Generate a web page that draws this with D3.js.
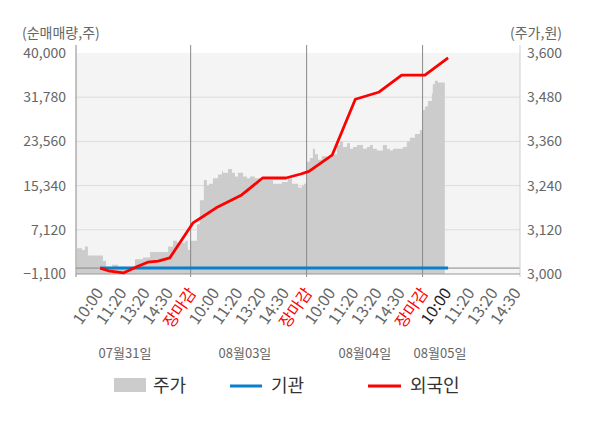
<!DOCTYPE html>
<html>
<head>
<meta charset="utf-8">
<script src="https://cdn.jsdelivr.net/npm/d3@7"></script>
<style>
  body { margin: 0; background: #fff; }
  svg { font-family: "Noto Sans CJK KR", "Noto Sans", sans-serif; }
</style>
</head>
<body>
<svg id="chart" width="600" height="428"></svg>
<script>
// x is measured in tick slots: 1 = 10:00 of day 1, 5 = 장마감, 6 = 10:00 of day 2 ...
const tickNames = ['10:00', '11:20', '13:20', '14:30', '장마감']
const tickSlots = d3.range(1, 20)
const dayNames = ['07월31일', '08월03일', '08월04일', '08월05일']
const daySlots = [2.07, 7.24, 12.41, 15.65]
const dayBreaks = [4.9, 9.9, 14.9]

const volTicks = [40000, 31780, 23560, 15340, 7120, -1100]
const priceTicks = [3600, 3480, 3360, 3240, 3120, 3000]

// 주가 (right axis)
const priceT = [0, 0.22, 0.34, 0.47, 0.78, 1.12, 1.25, 1.51, 1.77, 2.5, 2.84, 3.15, 3.93, 4.14, 4.31, 4.66, 4.78, 4.87,
  5.17, 5.3, 5.47, 5.6, 5.69, 5.86, 6.08, 6.25, 6.29, 6.51, 6.68, 6.81, 6.94, 7.16, 7.33, 7.46, 7.67, 7.89, 8.45, 8.84,
  9.09, 9.27, 9.53, 9.7, 9.78, 9.91, 10.04, 10.17, 10.26, 10.39, 10.56, 10.78, 10.99, 11.21, 11.34, 11.47, 11.64, 11.77,
  11.9, 12.07, 12.33, 12.5, 12.63, 12.76, 12.93, 13.19, 13.36, 13.49, 13.62, 14.05, 14.22, 14.35, 14.57, 14.78, 14.91,
  15.0, 15.13, 15.3, 15.34, 15.43, 15.56, 15.65, 15.86]
const priceV = [3070, 3065, 3075, 3050, 3050, 3035, 3015, 3025, 3020, 3040, 3045, 3060, 3075, 3090, 3085, 3090, 3065, 3090,
  3135, 3200, 3255, 3240, 3245, 3260, 3270, 3280, 3275, 3285, 3275, 3265, 3275, 3265, 3260, 3265, 3260, 3255, 3245, 3250,
  3260, 3245, 3235, 3240, 3245, 3305, 3315, 3340, 3325, 3310, 3320, 3315, 3325, 3350, 3360, 3345, 3355, 3340,
  3345, 3350, 3340, 3345, 3350, 3340, 3335, 3350, 3340, 3335, 3340, 3345, 3360, 3370, 3380, 3390, 3445,
  3455, 3470, 3490, 3515, 3525, 3520, 3520, 3520]

// 외국인 / 기관 net volume (left axis)
const foreignT = [1, 1.35, 2, 2.3, 2.6, 3.05, 3.5, 4, 5, 5.4, 6, 7.1, 8, 9, 9.65, 10, 11, 12, 13, 14, 15, 16]
const foreignV = [0, -500, -900, -300, 300, 1100, 1300, 1900, 8400, 9500, 11200, 13600, 16750, 16750, 17500, 18000,
  21000, 31400, 32700, 35900, 35900, 39100]
const instT = [1, 16]
const instV = [0, 0]

const plotL = 76, plotR = 520, plotT = 53, plotB = 274
const svg = d3.select('#chart')

const x = d3.scaleLinear().domain([0, 19.1]).range([77, plotR])
const yVol = d3.scaleLinear().domain([-1100, 40000]).range([plotB, plotT])
const yPrice = d3.scaleLinear().domain([3000, 3600]).range([plotB, plotT])

svg.append('rect')
  .attr('x', plotL).attr('y', plotT)
  .attr('width', plotR - plotL).attr('height', plotB - plotT)
  .attr('fill', '#f4f4f4')

// grid
svg.append('g').selectAll('line').data(volTicks.slice(1, -1)).enter()
  .append('line')
  .attr('x1', plotL).attr('x2', plotR)
  .attr('y1', d => yVol(d)).attr('y2', d => yVol(d))
  .attr('stroke', '#dcdcdc')

// price area
const price = priceT.map((t, i) => [t, priceV[i]])
svg.append('path')
  .datum(price)
  .attr('fill', '#cccccc')
  .attr('d', d3.area().curve(d3.curveStepAfter)
    .x(d => x(d[0])).y0(plotB).y1(d => yPrice(d[1])))

// zero line
svg.append('line')
  .attr('x1', plotL).attr('x2', plotR)
  .attr('y1', yVol(0)).attr('y2', yVol(0))
  .attr('stroke', '#888')

// day separators
svg.append('g').selectAll('line').data(dayBreaks).enter()
  .append('line')
  .attr('x1', d => x(d)).attr('x2', d => x(d))
  .attr('y1', 45).attr('y2', plotB + 3)
  .attr('stroke', '#888')

svg.append('line').attr('x1', plotL).attr('x2', plotL).attr('y1', 45).attr('y2', plotB + 3).attr('stroke', '#888')
svg.append('line').attr('x1', plotR).attr('x2', plotR).attr('y1', 45).attr('y2', plotB + 3).attr('stroke', '#d0d0d0')
svg.append('line').attr('x1', plotL).attr('x2', plotR).attr('y1', plotB).attr('y2', plotB).attr('stroke', '#999')

const line = d3.line().x(d => x(d[0])).y(d => yVol(d[1]))

svg.append('path')
  .datum(instT.map((t, i) => [t, instV[i]]))
  .attr('fill', 'none').attr('stroke', '#0a7fcb').attr('stroke-width', 3)
  .attr('d', line)

svg.append('path')
  .datum(foreignT.map((t, i) => [t, foreignV[i]]))
  .attr('fill', 'none').attr('stroke', '#ff0000').attr('stroke-width', 2.8)
  .attr('stroke-linejoin', 'round')
  .attr('d', line)

// axes
const fmt = d3.format(',')
const leftAxis = svg.append('g')
  .attr('transform', `translate(${plotL},0)`)
  .call(d3.axisLeft(yVol).tickValues(volTicks).tickFormat(fmt).tickSize(0).tickPadding(10))
const rightAxis = svg.append('g')
  .attr('transform', `translate(${plotR},0)`)
  .call(d3.axisRight(yPrice).tickValues(priceTicks).tickFormat(fmt).tickSize(0).tickPadding(7))

;[leftAxis, rightAxis].forEach(a => {
  a.select('.domain').remove()
  a.selectAll('text').attr('font-size', 14).attr('fill', '#666')
    .attr('font-family', '"Noto Sans CJK KR", "Noto Sans", sans-serif')
})

svg.append('text').attr('x', 22).attr('y', 38).attr('font-size', 14).attr('fill', '#666').text('(순매매량,주)')
svg.append('text').attr('x', 562).attr('y', 38).attr('font-size', 14).attr('fill', '#666')
  .attr('text-anchor', 'end').text('(주가,원)')

// rotated time labels
svg.append('g').selectAll('text').data(tickSlots).enter()
  .append('text')
  .attr('transform', d => `translate(${x(d) + 4},293) rotate(-55)`)
  .attr('text-anchor', 'end')
  .attr('font-size', 16)
  .attr('fill', d => d % 5 === 0 ? '#ff0000' : (d === 16 ? '#222' : '#666'))
  .text(d => tickNames[(d - 1) % 5])

svg.append('g').selectAll('text').data(dayNames).enter()
  .append('text')
  .attr('x', (d, i) => x(daySlots[i])).attr('y', 358)
  .attr('text-anchor', 'middle')
  .attr('font-size', 13).attr('fill', '#666')
  .text(d => d)

// legend
const legend = svg.append('g').attr('font-size', 18).attr('fill', '#333')
legend.append('rect').attr('x', 114).attr('y', 378).attr('width', 32).attr('height', 14).attr('fill', '#cccccc')
legend.append('text').attr('x', 153).attr('y', 392).text('주가')
legend.append('line').attr('x1', 230).attr('x2', 262).attr('y1', 386).attr('y2', 386)
  .attr('stroke', '#0a7fcb').attr('stroke-width', 3)
legend.append('text').attr('x', 271).attr('y', 392).text('기관')
legend.append('line').attr('x1', 368).attr('x2', 401).attr('y1', 386).attr('y2', 386)
  .attr('stroke', '#ff0000').attr('stroke-width', 3)
legend.append('text').attr('x', 410).attr('y', 392).text('외국인')
</script>
</body>
</html>
